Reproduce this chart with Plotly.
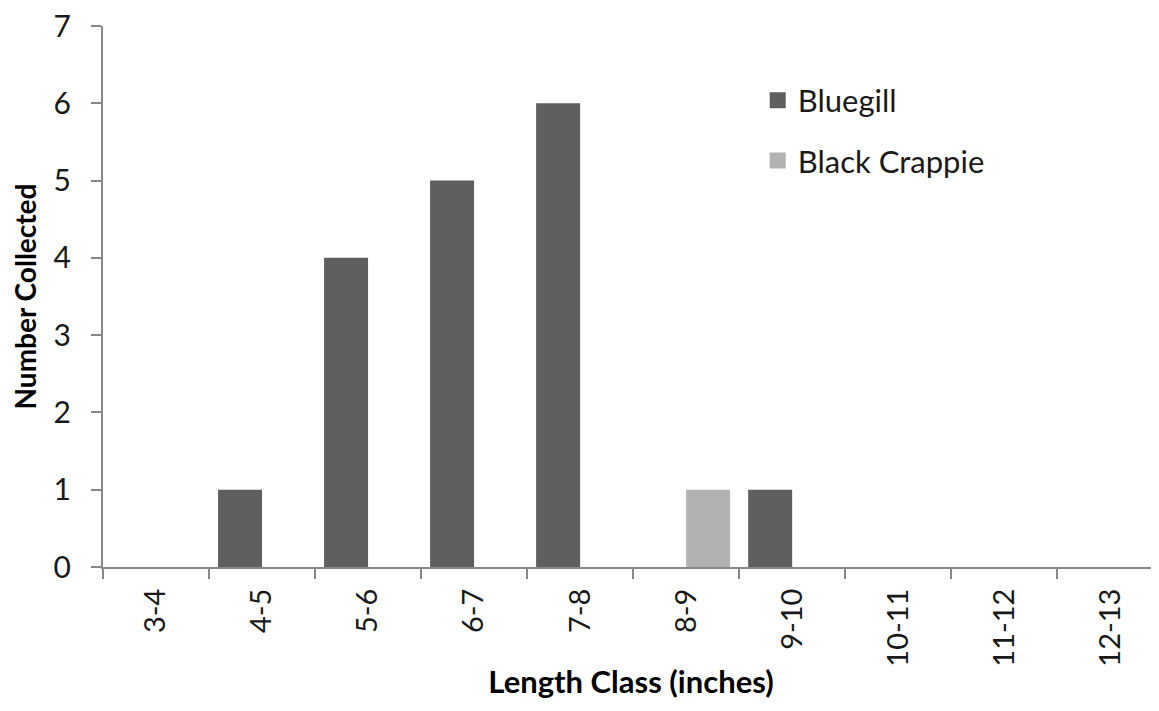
import plotly.graph_objects as go

categories = ["3-4", "4-5", "5-6", "6-7", "7-8", "8-9", "9-10", "10-11", "11-12", "12-13"]
bluegill = [0, 1, 4, 5, 6, 0, 1, 0, 0, 0]
black_crappie = [0, 0, 0, 0, 0, 1, 0, 0, 0, 0]
series_names = ["Bluegill", "Black Crappie"]
colors = ["#5f5f5f", "#b2b2b2"]
y_ticks = [0, 1, 2, 3, 4, 5, 6, 7]

FONT = "Lato"
AXIS_COLOR = "#888888"

fig = go.Figure()
for name, vals, col in zip(series_names, [bluegill, black_crappie], colors):
    fig.add_trace(go.Bar(x=categories, y=vals, name=name, marker=dict(color=col, line=dict(width=0)),
                         showlegend=False))
for i, (name, col) in enumerate(zip(series_names, colors)):
    fig.add_trace(go.Scatter(x=[None], y=[None], mode="markers", name=name, legendgroup=f"g{i}",
                             marker=dict(symbol="square", size=18, color=col)))

# page body has an 8px margin, so the figure is sized to fit inside the window
fig.update_layout(
    width=1151, height=703,
    margin=dict(l=95, r=0, t=18, b=144),
    paper_bgcolor="white", plot_bgcolor="white",
    barmode="group", bargap=0.17, bargroupgap=0,
    font=dict(family=FONT, color="#1a1a1a"),
    legend=dict(x=0.62, y=0.912, xanchor="left", yanchor="top",
                font=dict(size=31, family=FONT, color="#1a1a1a"),
                tracegroupgap=17, bgcolor="rgba(0,0,0,0)"),
    xaxis=dict(
        type="category", range=[-0.5, 9.46], automargin=False,
        showline=True, linecolor=AXIS_COLOR, linewidth=2,
        ticks="outside", tickson="boundaries", ticklen=10, tickcolor=AXIS_COLOR, tickwidth=2,
        ticklabelstandoff=8, ticklabeloverflow="allow",
        tickangle=-90, tickfont=dict(size=29, family=FONT, color="#1a1a1a"),
        showgrid=False, zeroline=False,
        title=dict(text="<b>Length Class (inches)</b>", font=dict(size=31, family=FONT, color="#000000"), standoff=6),
    ),
    yaxis=dict(
        range=[0, 7], tickvals=y_ticks, automargin=False,
        showline=True, linecolor=AXIS_COLOR, linewidth=2,
        ticks="outside", ticklen=10, tickcolor=AXIS_COLOR, tickwidth=2,
        ticklabelstandoff=14, ticklabeloverflow="allow",
        tickfont=dict(size=30, family=FONT, color="#1a1a1a"),
        showgrid=False, zeroline=False,
        title=dict(text="<b>Number Collected</b>", font=dict(size=28, family=FONT, color="#000000"), standoff=16),
    ),
)

fig.write_html("out.html")
